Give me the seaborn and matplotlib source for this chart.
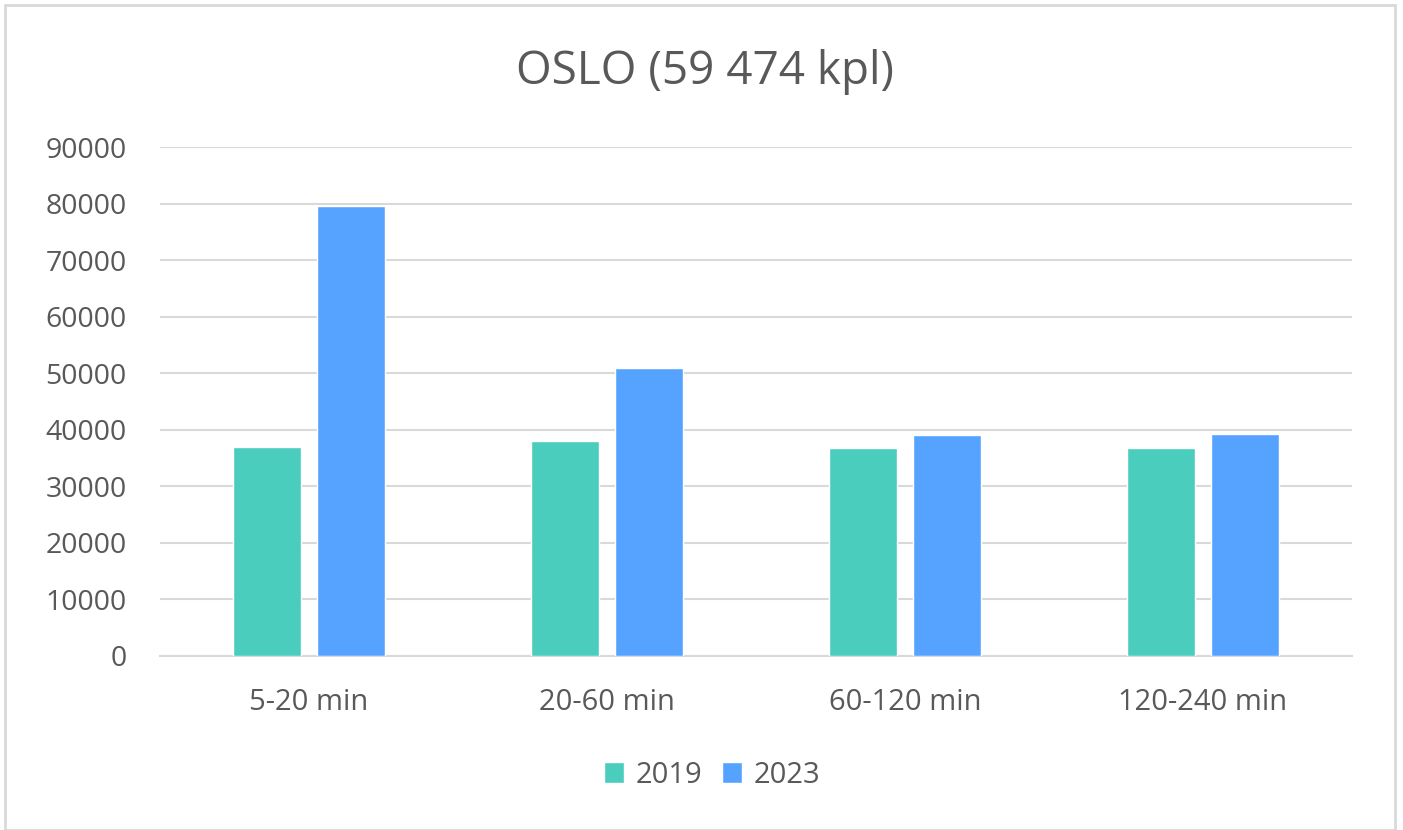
import matplotlib
matplotlib.use("Agg")
import matplotlib.pyplot as plt
import seaborn as sns
import pandas as pd
from matplotlib.patches import Rectangle

categories = ["5-20 min", "20-60 min", "60-120 min", "120-240 min"]
years = ["2019", "2023"]
values_2019 = [37000, 38000, 36700, 36700]
values_2023 = [79600, 51000, 39100, 39300]
title = "OSLO (59 474 kpl)"

df = pd.DataFrame({
    "cat": categories * 2,
    "year": [years[0]] * 4 + [years[1]] * 4,
    "val": values_2019 + values_2023,
})

sns.set_theme(style="white")
plt.rcParams["font.family"] = ["Open Sans", "DejaVu Sans"]
gray = "#595959"

fig = plt.figure(figsize=(14.03, 8.30), dpi=100)
ax = fig.add_axes([160 / 1403, 1 - 656 / 830, (1352 - 160) / 1403, (656 - 147) / 830])

palette = {"2019": "#4ACDBC", "2023": "#55A3FF"}
sns.barplot(data=df, x="cat", y="val", hue="year", palette=palette, ax=ax,
            width=0.567, gap=0.195, saturation=1, legend=True, zorder=3)

ax.set_xlim(-0.5, 3.5)
ax.set_ylim(0, 90000)
ax.set_yticks(range(0, 90001, 10000))
ax.yaxis.grid(True, color="#d9d9d9", linewidth=1.5, zorder=0)
ax.set_axisbelow(True)
for s in ["top", "right", "left"]:
    ax.spines[s].set_visible(False)
ax.spines["bottom"].set_color("#d9d9d9")
ax.spines["bottom"].set_linewidth(1.5)
ax.tick_params(axis="y", length=0, labelsize=20.5, colors=gray, pad=24)
ax.tick_params(axis="x", length=0, labelsize=21, colors=gray, pad=23)
ax.set_xlabel("")
ax.set_ylabel("")

fig.text(705 / 1403, 1 - 72 / 830, title, ha="center", va="center",
         fontsize=33, color=gray)

leg = ax.legend(loc="center", bbox_to_anchor=(712 / 1403, 1 - 775 / 830),
                bbox_transform=fig.transFigure, ncol=2, frameon=False,
                fontsize=21, handlelength=0.7, handleheight=0.7,
                handletextpad=0.4, columnspacing=0.65)
for t in leg.get_texts():
    t.set_color(gray)

fig.patches.append(Rectangle((5 / 1403, 0), 1390 / 1403, 1 - 5 / 830,
                             transform=fig.transFigure, fill=False,
                             edgecolor="#d9d9d9", linewidth=2))

fig.savefig("out.png", dpi=100)
